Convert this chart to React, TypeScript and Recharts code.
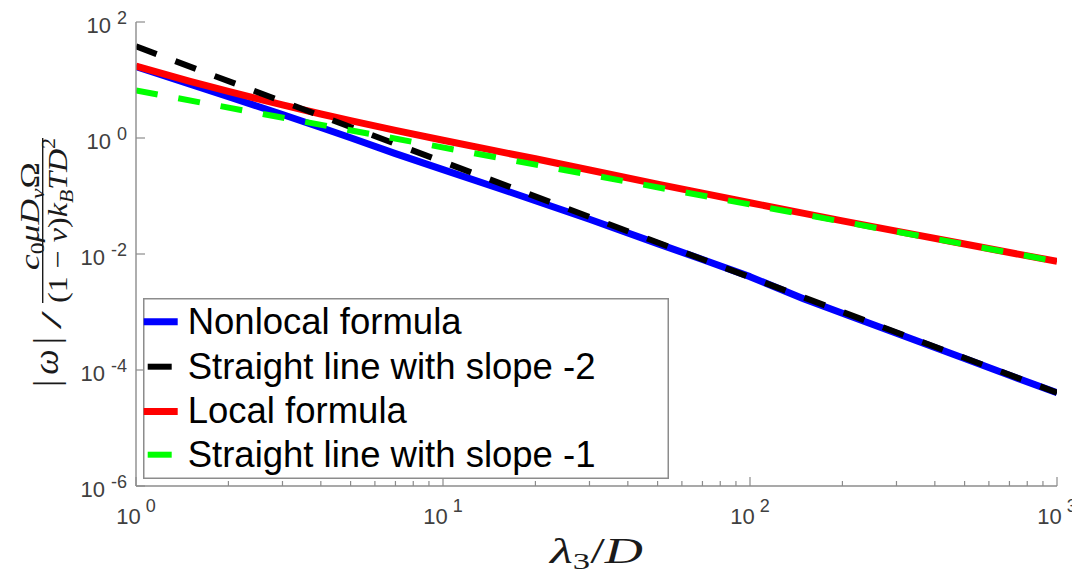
import React from 'react';
import { LineChart, Line, XAxis, YAxis, Legend } from 'recharts';

// ---------- data ----------
const xValues = [1, 1.5, 2, 3, 4, 5, 7, 10, 15, 20, 30, 50, 70, 100, 150, 200, 300, 500, 700, 1000];
const nonlocalValues = [17.0, 8.45, 5.15, 2.54, 1.52, 1.01, 0.538, 0.285, 0.139, 0.083, 0.0398, 0.0151, 0.00804, 0.00407, 0.001675, 0.00095, 0.00043, 0.000158, 0.000081, 0.0000407];
const localValues = [17.4, 9.48, 6.37, 3.72, 2.59, 1.99, 1.35, 0.916, 0.594, 0.438, 0.281, 0.16, 0.112, 0.0766, 0.0502, 0.0373, 0.0248, 0.01486, 0.01062, 0.00746];
const slope2X = [1, 1000];
const slope2Values = [38, 0.0000407];
const slope1X = [1, 1000];
const slope1Values = [6.6, 0.00743];

const seriesNames = ['Nonlocal formula', 'Straight line with slope -2', 'Local formula', 'Straight line with slope -1'];

const xMajorTicks = [1, 10, 100, 1000];
const xMajorExponents = ['0', '1', '2', '3'];
const xMinorTicks = [2, 3, 4, 5, 6, 7, 8, 9, 20, 30, 40, 50, 60, 70, 80, 90, 200, 300, 400, 500, 600, 700, 800, 900];
const yTicks = [0.000001, 0.0001, 0.01, 1, 100];
const yExponents = ['-6', '-4', '-2', '0', '2'];

const toPoints = (xs: number[], ys: number[]) => xs.map((x, i) => ({ x, y: ys[i] }));
const nonlocalData = toPoints(xValues, nonlocalValues);
const localData = toPoints(xValues, localValues);
const slope2Data = toPoints(slope2X, slope2Values);
const slope1Data = toPoints(slope1X, slope1Values);
const allXTicks = [...xMajorTicks, ...xMinorTicks].sort((a, b) => a - b);

// ---------- styles ----------
const AX = '#8c8c8c';
const TXT = '#404040';
const SANS = "'Liberation Sans', Arial, Helvetica, sans-serif";
const SERIF = "'Liberation Serif', 'Times New Roman', serif";
const MATH = '#1a1a1a';
const COLORS = { blue: '#0000ff', black: '#000000', red: '#ff0000', green: '#00ff00' };

function XTickBottom(props: any) {
  const { x, y, payload } = props;
  const idx = xMajorTicks.indexOf(payload.value);
  const major = idx >= 0;
  return (
    <g>
      <line x1={x} y1={y} x2={x} y2={y - (major ? 9 : 5)} stroke={AX} strokeWidth={1.2} />
      {major && (
        <text x={x} y={y + 38} textAnchor="middle" fill={TXT} fontFamily={SANS} fontSize={22}>
          <tspan>10</tspan>
          <tspan dx={5} dy={-12} fontSize={18}>{xMajorExponents[idx]}</tspan>
        </text>
      )}
    </g>
  );
}

function XTickTop(props: any) {
  const { x, y, payload } = props;
  const major = xMajorTicks.indexOf(payload.value) >= 0;
  return <line x1={x} y1={y} x2={x} y2={y + (major ? 9 : 5)} stroke={AX} strokeWidth={1.2} />;
}

function YTickLeft(props: any) {
  const { x, y, payload } = props;
  const idx = yTicks.indexOf(payload.value);
  return (
    <g>
      <line x1={x} y1={y} x2={x + 9} y2={y} stroke={AX} strokeWidth={1.2} />
      <text x={x - 9} y={y + 11} textAnchor="end" fill={TXT} fontFamily={SANS} fontSize={22}>
        <tspan>10</tspan>
        <tspan dx={6} dy={-9} fontSize={18}>{yExponents[idx]}</tspan>
      </text>
    </g>
  );
}

function YTickRight(props: any) {
  const { x, y } = props;
  return <line x1={x} y1={y} x2={x - 9} y2={y} stroke={AX} strokeWidth={1.2} />;
}

function YAxisTitle() {
  return (
    <g fill={MATH} fontFamily={SERIF}>
      <text transform="translate(31,208) rotate(-90)" textAnchor="middle" fontSize={27} textLength={108} lengthAdjust="spacingAndGlyphs">
        <tspan fontStyle="italic">c</tspan>
        <tspan fontSize={18} dy={5}>0</tspan>
        <tspan dy={-5} fontStyle="italic">μD</tspan>
        <tspan fontSize={18} dy={5} fontStyle="italic">v</tspan>
        <tspan dy={-5}>Ω</tspan>
      </text>
      <line x1={34.7} y1={130} x2={34.7} y2={295} stroke={MATH} strokeWidth={1.4} />
      <text transform="translate(59,212.5) rotate(-90)" textAnchor="middle" fontSize={28} textLength={165} lengthAdjust="spacingAndGlyphs">
        <tspan>(1 − </tspan>
        <tspan fontStyle="italic">ν</tspan>
        <tspan>)</tspan>
        <tspan fontStyle="italic">k</tspan>
        <tspan fontStyle="italic" fontSize={19} dy={6}>B</tspan>
        <tspan fontStyle="italic" dy={-6}>TD</tspan>
        <tspan fontSize={19} dy={-12}>2</tspan>
      </text>
      <text transform="translate(53,312) rotate(-90) scale(2.2,1)" textAnchor="middle" fontSize={30}>/</text>
      <text transform="translate(49.5,354) rotate(-90)" textAnchor="middle" fontSize={36} textLength={50} lengthAdjust="spacing">
        <tspan>|</tspan>
        <tspan fontStyle="italic">ω</tspan>
        <tspan>|</tspan>
      </text>
    </g>
  );
}

function XAxisTitle() {
  return (
    <text x={542} y={555} fill={MATH} fontFamily={SERIF} fontSize={35} textLength={93} lengthAdjust="spacingAndGlyphs">
      <tspan fontStyle="italic">λ</tspan>
      <tspan fontSize={23} dy={6}>3</tspan>
      <tspan dy={-6}>/</tspan>
      <tspan fontStyle="italic">D</tspan>
    </text>
  );
}

function LegendBox(props: any) {
  const payload: any[] = props.payload || [];
  const rowsY = [23.7, 68.7, 113.4, 156.7];
  const baseY = [36, 80.5, 125, 169];
  return (
    <svg width={526} height={181} style={{ display: 'block' }}>
      <rect x={0.75} y={0.75} width={524.5} height={179.5} fill="#ffffff" stroke={AX} strokeWidth={1.5} />
      {seriesNames.map((name, i) => {
        const item = payload.find((p) => p.value === name) || {};
        const dashed = !!(item.payload && item.payload.strokeDasharray);
        const color = item.color || '#000';
        return (
          <g key={name}>
            <line
              x1={dashed ? 4.7 : 0.7}
              x2={dashed ? 28.7 : 34.7}
              y1={rowsY[i]}
              y2={rowsY[i]}
              stroke={color}
              strokeWidth={dashed ? 6 : 7}
            />
            <text x={44.7} y={baseY[i]} fontFamily={SANS} fontSize={36.5} fill="#000">
              {name}
            </text>
          </g>
        );
      })}
    </svg>
  );
}

export default function App() {
  return (
    <LineChart width={1072} height={566} margin={{ top: 14, right: 23, bottom: 0, left: 0 }}>
      <XAxis
        xAxisId="x"
        dataKey="x"
        type="number"
        scale="log"
        domain={[1, 1000]}
        allowDataOverflow
        ticks={allXTicks}
        interval={0}
        height={88}
        tickSize={0}
        tickMargin={0}
        tickLine={false}
        axisLine={{ stroke: AX, strokeWidth: 1.4 }}
        tick={<XTickBottom />}
        label={<XAxisTitle />}
      />
      <XAxis
        xAxisId="xtop"
        dataKey="x"
        type="number"
        orientation="top"
        scale="log"
        domain={[1, 1000]}
        allowDataOverflow
        ticks={allXTicks}
        interval={0}
        height={0}
        tickSize={0}
        tickMargin={0}
        tickLine={false}
        axisLine={{ stroke: AX, strokeWidth: 1.4 }}
        tick={<XTickTop />}
      />
      <YAxis
        yAxisId="y"
        type="number"
        scale="log"
        domain={[0.000001, 100]}
        allowDataOverflow
        ticks={yTicks}
        interval={0}
        width={128}
        tickSize={0}
        tickMargin={0}
        tickLine={false}
        axisLine={{ stroke: AX, strokeWidth: 1.4 }}
        tick={<YTickLeft />}
        label={<YAxisTitle />}
      />
      <YAxis
        yAxisId="yr"
        orientation="right"
        type="number"
        scale="log"
        domain={[0.000001, 100]}
        allowDataOverflow
        ticks={yTicks}
        interval={0}
        width={0}
        tickSize={0}
        tickMargin={0}
        tickLine={false}
        axisLine={{ stroke: AX, strokeWidth: 1.4 }}
        tick={<YTickRight />}
      />
      <Line xAxisId="x" yAxisId="y" data={nonlocalData} dataKey="y" name={seriesNames[0]} stroke={COLORS.blue} strokeWidth={7} dot={false} isAnimationActive={false} strokeLinejoin="round" />
      <Line xAxisId="x" yAxisId="y" data={localData} dataKey="y" name={seriesNames[2]} stroke={COLORS.red} strokeWidth={7} dot={false} isAnimationActive={false} strokeLinejoin="round" />
      <Line xAxisId="x" yAxisId="y" data={slope2Data} dataKey="y" name={seriesNames[1]} stroke={COLORS.black} strokeWidth={6} strokeDasharray="22 20" dot={false} isAnimationActive={false} />
      <Line xAxisId="x" yAxisId="y" data={slope1Data} dataKey="y" name={seriesNames[3]} stroke={COLORS.green} strokeWidth={6} strokeDasharray="22 21" dot={false} isAnimationActive={false} />
      <Legend
        layout="vertical"
        align="center"
        verticalAlign="middle"
        content={<LegendBox />}
        wrapperStyle={{ left: 135.3, top: 290.3, width: 526, height: 181 }}
      />
    </LineChart>
  );
}
